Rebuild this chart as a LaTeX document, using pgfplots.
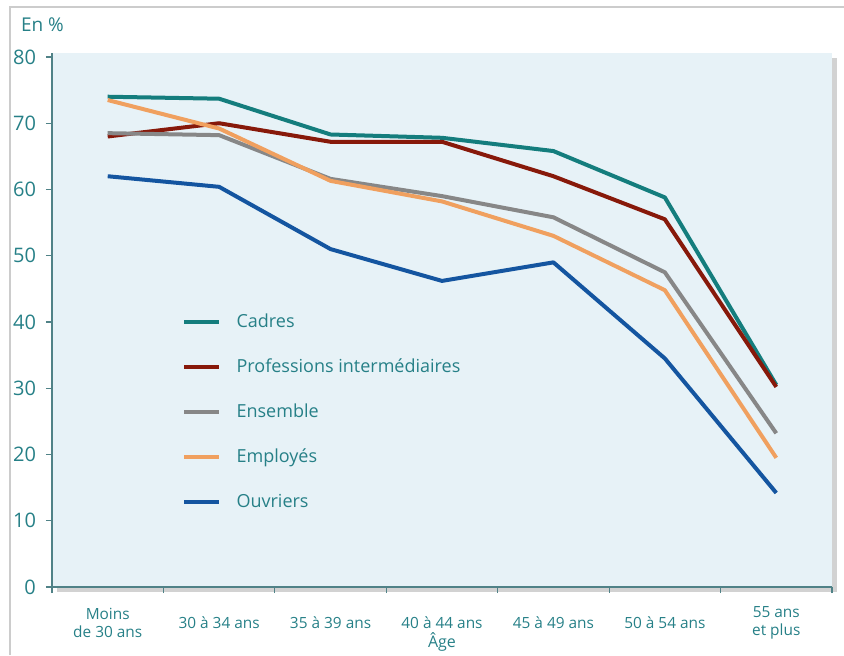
\documentclass[border=0pt]{standalone}
\usepackage{pgfplots}
\pgfplotsset{compat=1.18}
\usepackage{pgfplotstable}
\usepackage{fontspec}
\setmainfont{Open Sans}
\usetikzlibrary{shadows}

\definecolor{txtteal}{RGB}{38,128,135}
\definecolor{axteal}{RGB}{80,130,135}
\definecolor{bgblue}{RGB}{231,242,247}
\definecolor{cadres}{RGB}{20,125,125}
\definecolor{profint}{RGB}{135,25,10}
\definecolor{ensemble}{RGB}{135,135,135}
\definecolor{employes}{RGB}{240,160,95}
\definecolor{ouvriers}{RGB}{20,85,160}

\pgfplotstableread{
x cadres prof ens empl ouv
0 74.0 68.0 68.5 73.5 62.0
1 73.7 70.0 68.2 69.2 60.4
2 68.3 67.2 61.6 61.3 51.0
3 67.8 67.2 59.0 58.2 46.2
4 65.8 62.0 55.8 53.0 49.0
5 58.8 55.5 47.5 44.8 34.5
6 30.5 30.2 23.2 19.5 14.2
}\data

\begin{document}
\begin{tikzpicture}
\begin{axis}[
    scale only axis,
    width=390pt, height=267pt,
    xmin=-0.5, xmax=6.5,
    ymin=0, ymax=80.6,
    axis lines=left,
    axis line style={-, axteal, line width=0.8pt},
    axis background/.style={fill=bgblue,
        drop shadow={shadow xshift=2.5pt, shadow yshift=-2.5pt, fill=black!35}},
    tick align=outside,
    tick style={axteal, line width=0.6pt},
    major tick length=3pt,
    ytick={0,10,...,80},
    xtick={-0.5,0.5,...,6.5},
    x tick label as interval,
    xticklabels={Moins\\de 30 ans, 30 à 34 ans, 35 à 39 ans, 40 à 44 ans, 45 à 49 ans, 50 à 54 ans, 55 ans\\et plus},
    x tick label style={align=center, font=\fontsize{7.7}{9}\selectfont, text=txtteal, anchor=center, yshift=-15pt},
    y tick label style={font=\fontsize{10}{12}\selectfont, text=txtteal, xshift=-1.5pt},
    /pgf/number format/assume math mode=true,
    xlabel={Âge},
    xlabel style={font=\fontsize{8}{9.5}\selectfont, text=txtteal, yshift=10pt},
    legend style={at={(0.159,0.528)}, anchor=north west, draw=none, fill=none,
        font=\fontsize{9}{11}\selectfont, text=txtteal, row sep=10.2pt},
    legend cell align=left,
    legend image post style={line width=2pt},
    every axis plot/.append style={line width=2pt, mark=none, line join=round},
    clip=false,
]
\addplot[cadres] table[x=x, y=cadres] {\data};
\addlegendentry{\hspace{6pt}Cadres}
\addplot[profint] table[x=x, y=prof] {\data};
\addlegendentry{\hspace{6pt}Professions intermédiaires}
\addplot[ensemble] table[x=x, y=ens] {\data};
\addlegendentry{\hspace{6pt}Ensemble}
\addplot[employes] table[x=x, y=empl] {\data};
\addlegendentry{\hspace{6pt}Employés}
\addplot[ouvriers] table[x=x, y=ouv] {\data};
\addlegendentry{\hspace{6pt}Ouvriers}
\end{axis}
\node[anchor=west, text=txtteal, font=\fontsize{9.5}{11}\selectfont] at (-19pt,281pt) {En \%};
\draw[black!20, line width=0.6pt] (-21pt,-34pt) -- (-21pt,290pt) -- (396pt,290pt);
\pgfresetboundingbox
\path[use as bounding box] (-26pt,-34pt) rectangle (396pt,293.5pt);
\end{tikzpicture}
\end{document}
